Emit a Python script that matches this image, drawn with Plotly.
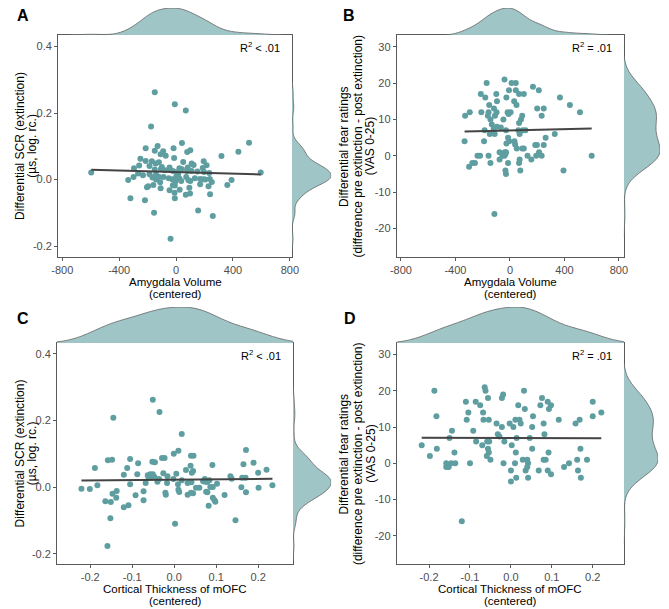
import numpy as np
import plotly.graph_objects as go

# Panel A: amygdala volume (centered) vs differential SCR
amy_a = [-150, -9, 68, -176, 513, 41, 438, 319, -130, -214, -18, -150, -91, 100, 78, -109, -73,
         -251, -14, 50, -214, -171, -144, -121, -100, 109, 123, 194, 214, 187, -296, -260, -187,
         -46, 23, 82, 41, 78, -150, -107, -78, -43, -23, 0, 14, 109, 150, 196, 233, -597, 595,
         -267, -233, -187, -166, -141, -119, -89, -52, -27, 0, 23, 71, 87, 132, 169, 205, 237,
         251, -337, -299, -141, -112, -5, 36, 100, 192, 390, 360, 228, 169, 93, 68, 98, -9, -23,
         -46, 25, -11, -9, 239, -109, -196, -205, -160, -321, -219, -155, 155, 258, -39]
scr_a = [0.263, 0.227, 0.208, 0.160, 0.111, 0.110, 0.084, 0.071, 0.101, 0.094, 0.094, 0.087,
         0.085, 0.088, 0.083, 0.076, 0.072, 0.063, 0.065, 0.053, 0.056, 0.055, 0.048, 0.052,
         0.038, 0.048, 0.044, 0.055, 0.043, 0.035, 0.034, 0.042, 0.041, 0.036, 0.034, 0.036,
         0.031, 0.026, 0.030, 0.032, 0.028, 0.029, 0.026, 0.022, 0.016, 0.026, 0.024, 0.023,
         0.020, 0.021, 0.021, 0.018, 0.013, 0.016, 0.006, 0.015, 0.008, 0.008, 0.004, 0.001,
         0.008, 0.003, 0.008, -0.002, 0.004, 0.002, 0.000, 0.002, -0.007, -0.001, 0.008, 0.000,
         -0.008, -0.006, -0.004, -0.004, 0.001, -0.001, -0.016, -0.020, -0.014, -0.025, -0.046,
         -0.042, -0.018, -0.017, -0.032, -0.031, -0.040, -0.056, -0.044, -0.026, -0.020, -0.023,
         -0.016, -0.056, -0.062, -0.100, -0.093, -0.110, -0.178]

# Panel B: amygdala volume (centered) vs differential fear ratings
amy_b = [-171, 12, 43, -40, 169, -214, -100, 67, 102, -7, 43, 212, -181, -26, 367, -95, 31, 48,
         -152, 440, -329, -295, -210, -157, -117, -17, 5, 90, 200, 248, 233, 514, -162, -143,
         -110, -98, -48, -10, 67, 81, -95, -133, -119, -186, -148, -112, -67, -29, 62, 95, 114,
         71, 329, -14, -5, 33, -26, 38, -333, -190, 90, 102, 198, 186, 262, 248, 50, 129, 157,
         193, 214, 233, -238, -219, -157, -76, -38, -55, -40, -33, -29, -76, -143, -14, 71, 67,
         -276, -257, -300, -33, -29, 76, 393, 600, -114]
fear_b = [20, 20, 20, 21, 19, 17, 17, 17, 17, 18, 18, 18, 16, 16, 16, 15, 15, 14, 14, 14, 11,
          12, 12, 12, 13, 12, 12, 11, 13, 13, 11, 12, 11, 10, 11, 12, 10, 11.5, 9, 10, 8, 8.6,
          7.4, 7, 6, 6, 7.8, 7, 7, 7, 7, 6, 6, 5, 4, 4, 3.4, 3.1, 4, 4, 2, 2, 3, 3, 5, 3, 2, 0,
          -1, 0, 1, 0, 0, 0, 0, 1, 1, 0, 0, 0.5, 1, -1, -2, -2, -1, -2, -2, -2, -3, -4, -5, -4,
          -4, 0, -16]

# Panel C: cortical thickness of mOFC (centered) vs differential SCR
ofc_c = [-0.051, -0.035, -0.145, 0.018, 0.171, 0.010, -0.001, 0.040, 0.046, -0.105, -0.148,
         -0.158, -0.029, -0.023, -0.052, -0.046, -0.086, 0.189, 0.165, 0.091, 0.039, -0.189,
         -0.112, 0.220, 0.028, 0.045, 0.042, -0.026, 0.005, 0.200, -0.120, -0.088, -0.063,
         -0.057, -0.051, -0.053, -0.061, -0.047, -0.016, 0.134, 0.170, 0.162, -0.036, -0.002,
         0.018, 0.073, 0.069, 0.074, 0.084, 0.079, 0.137, -0.105, -0.068, -0.040, -0.017, 0.009,
         0.032, 0.041, 0.102, -0.183, -0.221, -0.201, -0.137, -0.147, -0.138, -0.164, -0.151,
         -0.073, -0.092, -0.021, -0.020, 0.010, 0.012, 0.040, 0.045, 0.032, 0.052, 0.060, 0.076,
         0.079, 0.086, 0.092, 0.092, 0.096, 0.098, 0.120, 0.160, 0.171, 0.201, 0.234, -0.109,
         -0.120, -0.073, 0.082, -0.152, 0.002, 0.146, -0.159]
scr_c = [0.262, 0.225, 0.208, 0.159, 0.111, 0.109, 0.100, 0.094, 0.094, 0.084, 0.082, 0.080,
         0.087, 0.087, 0.076, 0.074, 0.071, 0.073, 0.068, 0.066, 0.064, 0.057, 0.057, 0.052,
         0.051, 0.048, 0.043, 0.041, 0.040, 0.043, 0.037, 0.038, 0.035, 0.038, 0.038, 0.030,
         0.029, 0.030, 0.032, 0.032, 0.028, 0.028, 0.024, 0.024, 0.020, 0.024, 0.017, 0.016,
         0.020, 0.015, 0.025, 0.008, 0.012, 0.016, 0.012, 0.008, 0.012, 0.014, 0.010, 0.005,
         -0.005, -0.006, -0.012, -0.020, -0.032, -0.043, -0.045, -0.013, -0.025, -0.017, -0.023,
         -0.008, -0.015, -0.017, -0.019, -0.023, -0.002, -0.002, -0.014, -0.016, 0.000, 0.000,
         -0.032, -0.040, -0.044, -0.024, -0.001, -0.016, -0.002, 0.005, -0.055, -0.061, -0.040,
         -0.056, -0.094, -0.110, -0.100, -0.177]

# Panel D: cortical thickness of mOFC (centered) vs differential fear ratings
ofc_d = [-0.064, -0.062, -0.187, 0.032, -0.019, -0.022, -0.056, 0.076, -0.110, -0.086, 0.090,
         0.200, -0.075, 0.018, 0.072, 0.098, 0.093, 0.034, -0.104, -0.068, 0.221, -0.182, 0.054,
         0.200, -0.108, -0.067, -0.054, 0.011, 0.021, 0.024, 0.117, 0.168, 0.158, -0.003,
         -0.035, 0.080, -0.022, 0.006, 0.052, -0.144, -0.092, -0.032, 0.082, -0.028, 0.014,
         0.046, -0.150, -0.085, -0.058, -0.053, -0.016, -0.070, 0.002, -0.218, -0.181, -0.056,
         0.052, 0.170, -0.198, -0.138, -0.054, 0.012, 0.092, -0.059, -0.050, 0.029, 0.040, 0.080,
         0.085, 0.162, 0.186, -0.158, -0.146, -0.136, -0.100, -0.018, 0.010, 0.042, 0.142,
         -0.158, -0.152, 0.130, 0.040, 0.000, 0.036, 0.068, 0.090, 0.164, 0.098, 0.013, 0.042,
         0.171, 0.000, -0.120]
fear_d = [21, 20, 20, 20, 19, 18, 18, 18, 17, 17, 17, 17, 16, 16, 16, 16, 15, 15, 14, 14, 14,
          13, 13, 13, 12, 12, 12, 12, 12, 11, 12, 12, 11, 11, 11, 11, 10, 10, 10, 9, 9, 8, 8,
          7.4, 7, 7, 7, 6, 6, 6, 6, 5, 5, 5, 4, 4, 4, 4, 2, 3, 3, 3, 3, 2, 1, 1, 1, 1, 1, 1, 1,
          0, 0, 0, 0, 0, 0, 0, 0, -1, -1, -1, -1, -2, -2, -2, -2, -2, -3, -4, -4, -4, -5, -16]

labels = ["A", "B", "C", "D"]
r2_text = ["R<sup>2</sup> &lt; .01", "R<sup>2</sup> = .01", "R<sup>2</sup> &lt; .01", "R<sup>2</sup> = .01"]
x_titles = [["Amygdala Volume", "(centered)"], ["Amygdala Volume", "(centered)"],
            ["Cortical Thickness of mOFC", "(centered)"], ["Cortical Thickness of mOFC", "(centered)"]]
scr_title = ["Differential SCR (extinction)", "(\u00b5s, log. rc.)"]
fear_title = ["Differential fear ratings", "(difference pre extinction - post extinction)", "(VAS 0-25)"]
y_titles = [scr_title, fear_title, scr_title, fear_title]

amy_ticks = [-800, -400, 0, 400, 800]
ofc_ticks = [-0.2, -0.1, 0.0, 0.1, 0.2]
scr_ticks = [-0.2, 0.0, 0.2, 0.4]
fear_ticks = [-20, -10, 0, 10, 20, 30]

# the page body adds an 8px margin, so the figure is drawn 8px in and 8px smaller
OFF = 8
W, H = 669 - OFF, 609 - OFF
POINT = "#5F9EA0"
FILL = "#9FC5C6"
EDGE = "#5a5a5a"
FONT = "Liberation Sans, Arial, sans-serif"


def px(v):
    return (max(v, OFF) - OFF) / W


def py(v):
    return 1 - (max(v, OFF) - OFF) / H


# box = (left, right, top, bottom) in window pixels
panels = [
    dict(x=amy_a, y=scr_a, box=(52, 291, 35, 257), xr=[-830, 815], yr=[-0.233, 0.435],
         xt=amy_ticks, yt=scr_ticks, top_peak=1, right_peak=331, lab=(8, 16), ytx=[13, 25]),
    dict(x=amy_b, y=fear_b, box=(398, 630, 35, 257), xr=[-831, 836], yr=[-27.8, 33.2],
         xt=amy_ticks, yt=fear_ticks, top_peak=1, right_peak=667, lab=(341, 16), ytx=[344, 358, 371]),
    dict(x=ofc_c, y=scr_c, box=(51, 292, 343, 564), xr=[-0.279, 0.283], yr=[-0.231, 0.432],
         xt=ofc_ticks, yt=scr_ticks, top_peak=307, right_peak=331, lab=(8, 318), ytx=[13, 25]),
    dict(x=ofc_d, y=fear_d, box=(398, 630, 343, 564), xr=[-0.279, 0.276], yr=[-27.8, 33.2],
         xt=ofc_ticks, yt=fear_ticks, top_peak=307, right_peak=665, lab=(342, 318), ytx=[344, 358, 371]),
]


def fmt(v, ticks):
    if ticks is ofc_ticks or ticks is scr_ticks:
        return "%.1f" % v
    return "%d" % v


fig = go.Figure()
layout = dict(width=W, height=H, margin=dict(l=0, r=0, t=0, b=0),
              paper_bgcolor="white", plot_bgcolor="white", showlegend=False,
              font=dict(family=FONT, color="black"), annotations=[])

for i, p in enumerate(panels, start=1):
    l, r, t, b = p["box"]
    xm = "x" if i == 1 else "x%d" % i
    ym = "y" if i == 1 else "y%d" % i
    xr_, yt_ = "x%d" % (i + 4), "y%d" % (i + 4)

    tick_font = dict(family=FONT, size=11, color="#4d4d4d")
    common = dict(showgrid=False, zeroline=False, showline=True, linecolor=EDGE, linewidth=1,
                  mirror=True, ticks="outside", ticklen=3, tickcolor=EDGE, tickfont=tick_font)
    layout["xaxis%d" % i] = dict(domain=[px(l), px(r)], anchor=ym, range=p["xr"],
                                 tickvals=p["xt"], ticktext=[fmt(v, p["xt"]) for v in p["xt"]], **common)
    layout["yaxis%d" % i] = dict(domain=[py(b), py(t)], anchor=xm, range=p["yr"],
                                 tickvals=p["yt"], ticktext=[fmt(v, p["yt"]) for v in p["yt"]], **common)
    hidden = dict(showgrid=False, zeroline=False, showline=False, showticklabels=False,
                  ticks="", type="linear", range=[0, 1])
    layout["yaxis%d" % (i + 4)] = dict(domain=[py(t), py(p["top_peak"])], anchor=xm, **hidden)
    layout["xaxis%d" % (i + 4)] = dict(domain=[px(r), px(p["right_peak"])], anchor=ym, **hidden)

    # marginal densities
    fig.add_trace(go.Violin(x=p["x"], y0=0, orientation="h", side="positive", width=2,
                            xaxis=xm, yaxis=yt_, fillcolor=FILL, line=dict(color="#666666", width=0.8),
                            points=False, spanmode="soft", hoverinfo="skip"))
    fig.add_trace(go.Violin(y=p["y"], x0=0, orientation="v", side="positive", width=2,
                            xaxis=xr_, yaxis=ym, fillcolor=FILL, line=dict(color="#666666", width=0.8),
                            points=False, spanmode="soft", hoverinfo="skip"))

    # points
    fig.add_trace(go.Scatter(x=p["x"], y=p["y"], mode="markers", xaxis=xm, yaxis=ym,
                             marker=dict(color=POINT, size=6, line=dict(width=0))))
    # linear fit
    k, c = np.polyfit(p["x"], p["y"], 1)
    xs = np.array([min(p["x"]), max(p["x"])])
    fig.add_trace(go.Scatter(x=xs, y=k * xs + c, mode="lines", xaxis=xm, yaxis=ym,
                             line=dict(color="#444444", width=2)))

    ann = layout["annotations"]
    ann.append(dict(text="<b>%s</b>" % labels[i - 1], x=px(p["lab"][0]), y=py(p["lab"][1]),
                    xref="paper", yref="paper", xanchor="left", yanchor="middle",
                    showarrow=False, font=dict(size=16, color="black", family=FONT)))
    ann.append(dict(text=r2_text[i - 1], x=px(r - 10), y=py(t + 12), xref="paper", yref="paper",
                    xanchor="right", yanchor="middle", showarrow=False,
                    font=dict(size=11, color="black", family=FONT)))
    cx = (l + r) / 2
    for j, line in enumerate(x_titles[i - 1]):
        ann.append(dict(text=line, x=px(cx), y=py(b + 24.5 + 12.5 * j), xref="paper", yref="paper",
                        xanchor="center", yanchor="middle", showarrow=False,
                        font=dict(size=11.5, color="black", family=FONT)))
    cy = (t + b) / 2
    for j, line in enumerate(y_titles[i - 1]):
        ann.append(dict(text=line, x=px(p["ytx"][j]), y=py(cy), xref="paper", yref="paper",
                        xanchor="center", yanchor="middle", textangle=-90, showarrow=False,
                        font=dict(size=12, color="black", family=FONT)))

fig.update_layout(**layout)
fig.write_html("out.html")
